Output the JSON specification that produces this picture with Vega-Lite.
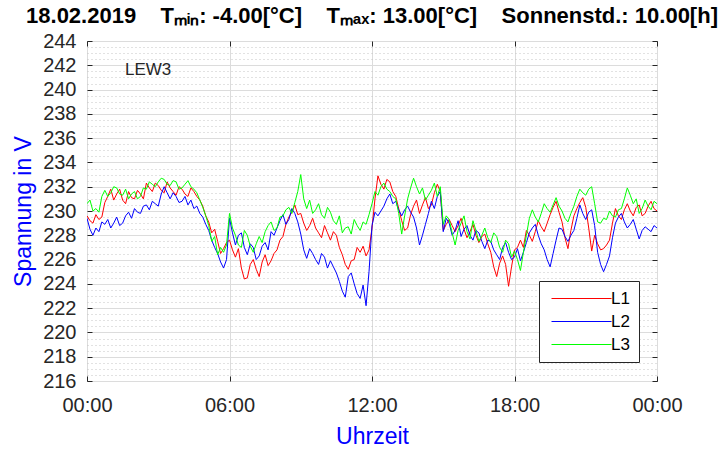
{
  "$schema": "https://vega.github.io/schema/vega-lite/v6.json",
  "width": 570,
  "height": 340,
  "autosize": {"type": "none"},
  "padding": {"left": 87, "top": 41, "right": 68, "bottom": 68},
  "background": "white",
  "config": {"view": {"stroke": "#262626", "strokeWidth": 1}, "font": "Liberation Sans"},
  "title": {
    "text": "18.02.2019\u00a0\u00a0\u00a0\u00a0Tₘᵢₙ: -4.00[°C]\u00a0\u00a0\u00a0\u00a0Tₘₐₓ: 13.00[°C]\u00a0\u00a0\u00a0\u00a0Sonnenstd.: 10.00[h]",
    "font": "Liberation Sans",
    "fontSize": 22,
    "fontWeight": "bold",
    "color": "#000000",
    "anchor": "middle",
    "offset": 3
  },
  "data": {
    "values": [
      {"t": 0.000, "L1": 229.6, "L2": 229.4, "L3": 230.6},
      {"t": 0.125, "L1": 229.2, "L2": 228.5, "L3": 230.9},
      {"t": 0.250, "L1": 229.0, "L2": 228.0, "L3": 230.0},
      {"t": 0.375, "L1": 229.7, "L2": 228.6, "L3": 230.2},
      {"t": 0.500, "L1": 229.3, "L2": 228.3, "L3": 229.9},
      {"t": 0.625, "L1": 229.5, "L2": 229.1, "L3": 231.2},
      {"t": 0.750, "L1": 230.7, "L2": 228.9, "L3": 231.7},
      {"t": 0.875, "L1": 231.2, "L2": 229.3, "L3": 231.2},
      {"t": 1.000, "L1": 231.8, "L2": 228.6, "L3": 231.5},
      {"t": 1.125, "L1": 230.9, "L2": 229.0, "L3": 232.0},
      {"t": 1.250, "L1": 231.4, "L2": 229.5, "L3": 231.9},
      {"t": 1.375, "L1": 231.8, "L2": 228.8, "L3": 231.4},
      {"t": 1.500, "L1": 230.9, "L2": 229.0, "L3": 231.3},
      {"t": 1.625, "L1": 230.6, "L2": 229.6, "L3": 231.8},
      {"t": 1.750, "L1": 231.6, "L2": 229.9, "L3": 231.0},
      {"t": 1.875, "L1": 231.1, "L2": 229.4, "L3": 231.4},
      {"t": 2.000, "L1": 231.0, "L2": 230.2, "L3": 231.6},
      {"t": 2.125, "L1": 231.7, "L2": 229.9, "L3": 231.0},
      {"t": 2.250, "L1": 231.4, "L2": 229.8, "L3": 231.2},
      {"t": 2.375, "L1": 231.0, "L2": 230.4, "L3": 231.9},
      {"t": 2.500, "L1": 232.3, "L2": 230.5, "L3": 231.8},
      {"t": 2.625, "L1": 231.9, "L2": 230.1, "L3": 232.4},
      {"t": 2.750, "L1": 231.6, "L2": 230.8, "L3": 232.2},
      {"t": 2.875, "L1": 232.3, "L2": 230.6, "L3": 232.0},
      {"t": 3.000, "L1": 232.1, "L2": 230.4, "L3": 232.4},
      {"t": 3.125, "L1": 231.7, "L2": 231.4, "L3": 232.7},
      {"t": 3.250, "L1": 231.5, "L2": 232.0, "L3": 232.6},
      {"t": 3.375, "L1": 232.4, "L2": 231.5, "L3": 232.2},
      {"t": 3.500, "L1": 231.9, "L2": 231.0, "L3": 232.1},
      {"t": 3.625, "L1": 231.6, "L2": 231.5, "L3": 232.5},
      {"t": 3.750, "L1": 231.3, "L2": 231.2, "L3": 232.4},
      {"t": 3.875, "L1": 232.0, "L2": 230.7, "L3": 231.8},
      {"t": 4.000, "L1": 231.8, "L2": 230.8, "L3": 231.9},
      {"t": 4.125, "L1": 231.4, "L2": 231.2, "L3": 232.2},
      {"t": 4.250, "L1": 231.2, "L2": 230.5, "L3": 232.5},
      {"t": 4.375, "L1": 231.9, "L2": 230.9, "L3": 232.0},
      {"t": 4.500, "L1": 231.6, "L2": 230.2, "L3": 231.8},
      {"t": 4.625, "L1": 231.2, "L2": 230.4, "L3": 231.5},
      {"t": 4.750, "L1": 230.9, "L2": 229.8, "L3": 230.9},
      {"t": 4.875, "L1": 230.4, "L2": 229.5, "L3": 230.3},
      {"t": 5.000, "L1": 229.6, "L2": 228.9, "L3": 229.6},
      {"t": 5.125, "L1": 229.1, "L2": 228.4, "L3": 228.8},
      {"t": 5.250, "L1": 228.2, "L2": 227.6, "L3": 227.5},
      {"t": 5.375, "L1": 228.5, "L2": 227.0, "L3": 227.9},
      {"t": 5.500, "L1": 227.5, "L2": 226.5, "L3": 226.4},
      {"t": 5.625, "L1": 226.5, "L2": 225.8, "L3": 227.0},
      {"t": 5.750, "L1": 226.9, "L2": 225.3, "L3": 226.6},
      {"t": 5.875, "L1": 227.4, "L2": 226.0, "L3": 227.2},
      {"t": 6.000, "L1": 227.6, "L2": 229.4, "L3": 229.8},
      {"t": 6.125, "L1": 226.8, "L2": 228.2, "L3": 228.6},
      {"t": 6.250, "L1": 226.2, "L2": 227.2, "L3": 228.0},
      {"t": 6.375, "L1": 226.9, "L2": 228.0, "L3": 227.2},
      {"t": 6.500, "L1": 225.3, "L2": 228.2, "L3": 227.0},
      {"t": 6.625, "L1": 224.4, "L2": 227.0, "L3": 228.4},
      {"t": 6.750, "L1": 224.5, "L2": 226.4, "L3": 228.0},
      {"t": 6.875, "L1": 225.6, "L2": 227.3, "L3": 227.1},
      {"t": 7.000, "L1": 226.0, "L2": 227.0, "L3": 226.6},
      {"t": 7.125, "L1": 225.2, "L2": 226.0, "L3": 227.3},
      {"t": 7.250, "L1": 224.6, "L2": 226.3, "L3": 227.9},
      {"t": 7.375, "L1": 225.8, "L2": 227.1, "L3": 227.4},
      {"t": 7.500, "L1": 226.4, "L2": 227.4, "L3": 228.3},
      {"t": 7.625, "L1": 225.5, "L2": 226.8, "L3": 228.8},
      {"t": 7.750, "L1": 225.9, "L2": 228.3, "L3": 229.1},
      {"t": 7.875, "L1": 226.5, "L2": 228.0, "L3": 228.4},
      {"t": 8.000, "L1": 226.8, "L2": 228.6, "L3": 228.6},
      {"t": 8.125, "L1": 227.6, "L2": 229.2, "L3": 229.5},
      {"t": 8.250, "L1": 227.9, "L2": 229.7, "L3": 229.6},
      {"t": 8.375, "L1": 228.9, "L2": 228.9, "L3": 230.1},
      {"t": 8.500, "L1": 229.5, "L2": 229.3, "L3": 230.3},
      {"t": 8.625, "L1": 229.9, "L2": 230.2, "L3": 229.8},
      {"t": 8.750, "L1": 230.5, "L2": 229.8, "L3": 230.7},
      {"t": 8.875, "L1": 229.7, "L2": 229.1, "L3": 231.6},
      {"t": 9.000, "L1": 229.8, "L2": 228.1, "L3": 233.0},
      {"t": 9.125, "L1": 229.0, "L2": 226.8, "L3": 231.0},
      {"t": 9.250, "L1": 228.4, "L2": 226.1, "L3": 230.2},
      {"t": 9.375, "L1": 228.8, "L2": 226.9, "L3": 230.9},
      {"t": 9.500, "L1": 229.4, "L2": 226.5, "L3": 229.8},
      {"t": 9.625, "L1": 228.6, "L2": 226.0, "L3": 230.1},
      {"t": 9.750, "L1": 228.2, "L2": 225.6, "L3": 230.6},
      {"t": 9.875, "L1": 227.8, "L2": 226.5, "L3": 229.7},
      {"t": 10.000, "L1": 228.8, "L2": 226.2, "L3": 229.4},
      {"t": 10.125, "L1": 228.2, "L2": 225.3, "L3": 230.3},
      {"t": 10.250, "L1": 227.6, "L2": 225.9, "L3": 229.9},
      {"t": 10.375, "L1": 228.3, "L2": 225.4, "L3": 229.2},
      {"t": 10.500, "L1": 228.0, "L2": 224.9, "L3": 228.9},
      {"t": 10.625, "L1": 227.0, "L2": 224.2, "L3": 229.6},
      {"t": 10.750, "L1": 226.4, "L2": 223.4, "L3": 228.2},
      {"t": 10.875, "L1": 225.6, "L2": 222.9, "L3": 228.6},
      {"t": 11.000, "L1": 225.2, "L2": 224.6, "L3": 228.7},
      {"t": 11.125, "L1": 225.9, "L2": 224.9, "L3": 228.1},
      {"t": 11.250, "L1": 226.0, "L2": 224.0, "L3": 229.3},
      {"t": 11.375, "L1": 227.0, "L2": 223.2, "L3": 228.8},
      {"t": 11.500, "L1": 226.6, "L2": 222.8, "L3": 228.4},
      {"t": 11.625, "L1": 227.1, "L2": 223.9, "L3": 229.1},
      {"t": 11.750, "L1": 226.3, "L2": 222.2, "L3": 228.9},
      {"t": 11.875, "L1": 226.8, "L2": 225.0, "L3": 229.7},
      {"t": 12.000, "L1": 228.6, "L2": 228.8, "L3": 230.6},
      {"t": 12.125, "L1": 231.0, "L2": 229.9, "L3": 231.6},
      {"t": 12.250, "L1": 232.9, "L2": 229.6, "L3": 231.3},
      {"t": 12.375, "L1": 232.2, "L2": 230.0, "L3": 232.0},
      {"t": 12.500, "L1": 231.8, "L2": 230.4, "L3": 232.3},
      {"t": 12.625, "L1": 232.6, "L2": 231.0, "L3": 231.8},
      {"t": 12.750, "L1": 232.4, "L2": 231.4, "L3": 231.6},
      {"t": 12.875, "L1": 231.6, "L2": 230.6, "L3": 231.2},
      {"t": 13.000, "L1": 231.2, "L2": 230.8, "L3": 231.0},
      {"t": 13.125, "L1": 230.2, "L2": 230.1, "L3": 229.8},
      {"t": 13.250, "L1": 229.2, "L2": 229.6, "L3": 228.1},
      {"t": 13.375, "L1": 228.4, "L2": 230.1, "L3": 229.6},
      {"t": 13.500, "L1": 228.6, "L2": 230.4, "L3": 231.0},
      {"t": 13.625, "L1": 229.7, "L2": 229.9, "L3": 231.9},
      {"t": 13.750, "L1": 230.4, "L2": 229.5, "L3": 232.7},
      {"t": 13.875, "L1": 230.9, "L2": 228.6, "L3": 232.0},
      {"t": 14.000, "L1": 229.8, "L2": 227.2, "L3": 231.4},
      {"t": 14.125, "L1": 230.5, "L2": 228.0, "L3": 231.9},
      {"t": 14.250, "L1": 231.1, "L2": 228.9, "L3": 230.9},
      {"t": 14.375, "L1": 230.2, "L2": 229.8, "L3": 231.3},
      {"t": 14.500, "L1": 230.5, "L2": 230.8, "L3": 231.7},
      {"t": 14.625, "L1": 231.5, "L2": 230.2, "L3": 232.3},
      {"t": 14.750, "L1": 232.2, "L2": 231.2, "L3": 231.2},
      {"t": 14.875, "L1": 231.6, "L2": 231.6, "L3": 232.0},
      {"t": 15.000, "L1": 228.4, "L2": 228.3, "L3": 228.9},
      {"t": 15.125, "L1": 228.9, "L2": 229.4, "L3": 229.6},
      {"t": 15.250, "L1": 229.3, "L2": 229.0, "L3": 229.3},
      {"t": 15.375, "L1": 228.8, "L2": 228.0, "L3": 228.2},
      {"t": 15.500, "L1": 228.3, "L2": 228.4, "L3": 227.2},
      {"t": 15.625, "L1": 228.8, "L2": 229.2, "L3": 228.4},
      {"t": 15.750, "L1": 229.4, "L2": 227.9, "L3": 229.0},
      {"t": 15.875, "L1": 228.5, "L2": 228.5, "L3": 229.6},
      {"t": 16.000, "L1": 227.8, "L2": 228.8, "L3": 228.3},
      {"t": 16.125, "L1": 228.3, "L2": 228.0, "L3": 227.7},
      {"t": 16.250, "L1": 228.9, "L2": 227.6, "L3": 229.2},
      {"t": 16.375, "L1": 228.0, "L2": 228.4, "L3": 228.4},
      {"t": 16.500, "L1": 227.4, "L2": 228.2, "L3": 227.5},
      {"t": 16.625, "L1": 227.9, "L2": 227.5, "L3": 228.0},
      {"t": 16.750, "L1": 228.1, "L2": 226.9, "L3": 228.6},
      {"t": 16.875, "L1": 227.3, "L2": 227.6, "L3": 227.8},
      {"t": 17.000, "L1": 226.6, "L2": 227.5, "L3": 227.4},
      {"t": 17.125, "L1": 225.4, "L2": 226.8, "L3": 228.2},
      {"t": 17.250, "L1": 224.6, "L2": 226.4, "L3": 227.9},
      {"t": 17.375, "L1": 225.7, "L2": 226.0, "L3": 227.0},
      {"t": 17.500, "L1": 226.3, "L2": 227.0, "L3": 226.6},
      {"t": 17.625, "L1": 225.6, "L2": 227.4, "L3": 227.6},
      {"t": 17.750, "L1": 223.8, "L2": 226.6, "L3": 227.3},
      {"t": 17.875, "L1": 225.4, "L2": 226.0, "L3": 226.2},
      {"t": 18.000, "L1": 226.8, "L2": 226.2, "L3": 226.7},
      {"t": 18.125, "L1": 227.0, "L2": 226.9, "L3": 226.0},
      {"t": 18.250, "L1": 227.6, "L2": 225.9, "L3": 225.1},
      {"t": 18.375, "L1": 227.0, "L2": 226.6, "L3": 226.6},
      {"t": 18.500, "L1": 228.4, "L2": 227.4, "L3": 228.0},
      {"t": 18.625, "L1": 228.0, "L2": 228.2, "L3": 229.4},
      {"t": 18.750, "L1": 227.5, "L2": 228.6, "L3": 230.1},
      {"t": 18.875, "L1": 228.3, "L2": 228.9, "L3": 229.5},
      {"t": 19.000, "L1": 229.2, "L2": 228.0, "L3": 229.1},
      {"t": 19.125, "L1": 228.7, "L2": 227.3, "L3": 229.8},
      {"t": 19.250, "L1": 228.3, "L2": 226.8, "L3": 230.6},
      {"t": 19.375, "L1": 229.0, "L2": 226.0, "L3": 230.2},
      {"t": 19.500, "L1": 229.7, "L2": 225.4, "L3": 229.9},
      {"t": 19.625, "L1": 230.3, "L2": 226.5, "L3": 230.5},
      {"t": 19.750, "L1": 230.8, "L2": 227.6, "L3": 231.1},
      {"t": 19.875, "L1": 229.9, "L2": 228.6, "L3": 230.4},
      {"t": 20.000, "L1": 229.1, "L2": 228.5, "L3": 230.0},
      {"t": 20.125, "L1": 227.8, "L2": 227.9, "L3": 229.4},
      {"t": 20.250, "L1": 226.9, "L2": 227.5, "L3": 229.1},
      {"t": 20.375, "L1": 228.4, "L2": 228.0, "L3": 229.8},
      {"t": 20.500, "L1": 229.6, "L2": 228.4, "L3": 230.4},
      {"t": 20.625, "L1": 230.2, "L2": 229.4, "L3": 231.2},
      {"t": 20.750, "L1": 230.7, "L2": 230.5, "L3": 231.8},
      {"t": 20.875, "L1": 231.1, "L2": 229.8, "L3": 231.5},
      {"t": 21.000, "L1": 230.3, "L2": 229.3, "L3": 231.3},
      {"t": 21.125, "L1": 228.6, "L2": 229.9, "L3": 231.8},
      {"t": 21.250, "L1": 226.7, "L2": 230.1, "L3": 232.0},
      {"t": 21.375, "L1": 228.0, "L2": 228.8, "L3": 230.6},
      {"t": 21.500, "L1": 227.3, "L2": 226.6, "L3": 229.1},
      {"t": 21.625, "L1": 226.8, "L2": 225.6, "L3": 229.0},
      {"t": 21.750, "L1": 226.9, "L2": 225.0, "L3": 229.4},
      {"t": 21.875, "L1": 227.2, "L2": 225.6, "L3": 229.3},
      {"t": 22.000, "L1": 227.6, "L2": 226.3, "L3": 230.0},
      {"t": 22.125, "L1": 229.0, "L2": 227.8, "L3": 229.6},
      {"t": 22.250, "L1": 230.2, "L2": 229.0, "L3": 229.5},
      {"t": 22.375, "L1": 229.6, "L2": 229.5, "L3": 230.1},
      {"t": 22.500, "L1": 229.3, "L2": 229.8, "L3": 230.2},
      {"t": 22.625, "L1": 230.1, "L2": 229.1, "L3": 231.0},
      {"t": 22.750, "L1": 230.6, "L2": 228.6, "L3": 231.9},
      {"t": 22.875, "L1": 230.0, "L2": 228.9, "L3": 231.3},
      {"t": 23.000, "L1": 229.6, "L2": 229.3, "L3": 230.6},
      {"t": 23.125, "L1": 230.3, "L2": 228.5, "L3": 231.0},
      {"t": 23.250, "L1": 230.5, "L2": 227.7, "L3": 229.8},
      {"t": 23.375, "L1": 229.6, "L2": 228.4, "L3": 230.2},
      {"t": 23.500, "L1": 229.8, "L2": 228.7, "L3": 230.9},
      {"t": 23.625, "L1": 230.4, "L2": 228.5, "L3": 230.4},
      {"t": 23.750, "L1": 230.8, "L2": 228.3, "L3": 230.1},
      {"t": 23.875, "L1": 230.2, "L2": 228.8, "L3": 230.8},
      {"t": 24.000, "L1": 230.0, "L2": 228.6, "L3": 230.6}
    ]
  },
  "layer": [
    {
      "transform": [{"fold": ["L1", "L2", "L3"], "as": ["Phase", "U"]}],
      "mark": {"type": "line", "strokeWidth": 1, "clip": true},
      "encoding": {
        "x": {
          "field": "t", "type": "quantitative",
          "scale": {"domain": [0, 24], "nice": false, "zero": false},
          "axis": {
            "values": [0, 6, 12, 18, 24],
            "labelExpr": "((datum.value < 10 || datum.value == 24) ? '0' : '') + (datum.value % 24) + ':00'",
            "grid": true, "gridColor": "#dcdcdc", "gridWidth": 1,
            "domain": false, "tickSize": -5, "tickColor": "#262626",
            "labelFontSize": 20, "labelColor": "#262626", "labelPadding": 19,
            "labelFlush": false, "labelOverlap": false,
            "title": "Uhrzeit", "titleColor": "#0000ff", "titleFontSize": 23,
            "titleFontWeight": "normal", "titlePadding": 10
          }
        },
        "y": {
          "field": "U", "type": "quantitative",
          "scale": {"domain": [216, 244], "nice": false, "zero": false},
          "axis": {
            "values": [216, 216.5, 217, 217.5, 218, 218.5, 219, 219.5, 220, 220.5, 221, 221.5, 222, 222.5, 223, 223.5, 224, 224.5, 225, 225.5, 226, 226.5, 227, 227.5, 228, 228.5, 229, 229.5, 230, 230.5, 231, 231.5, 232, 232.5, 233, 233.5, 234, 234.5, 235, 235.5, 236, 236.5, 237, 237.5, 238, 238.5, 239, 239.5, 240, 240.5, 241, 241.5, 242, 242.5, 243, 243.5, 244],
            "labelExpr": "datum.value % 2 === 0 ? format(datum.value, 'd') : ''",
            "grid": true,
            "gridColor": {"condition": {"test": "datum.value % 2 !== 0", "value": "#c4c4c4"}, "value": "#dcdcdc"},
            "gridDash": {"condition": {"test": "datum.value % 2 !== 0", "value": [1, 3]}, "value": []},
            "tickOpacity": {"condition": {"test": "datum.value % 2 !== 0", "value": 0}, "value": 1},
            "domain": false, "tickSize": -5, "tickColor": "#262626",
            "labelFontSize": 20, "labelColor": "#262626", "labelPadding": 16,
            "labelOverlap": false, "labelFlush": false, "labelBound": false,
            "title": "Spannung in V", "titleColor": "#0000ff", "titleFontSize": 23,
            "titleFontWeight": "normal", "titlePadding": 7
          }
        },
        "color": {
          "field": "Phase", "type": "nominal",
          "scale": {"domain": ["L1", "L2", "L3"], "range": ["#ff0000", "#0000ff", "#00ff00"]},
          "legend": {
            "orient": "none", "legendX": 452, "legendY": 240, "title": null,
            "symbolType": "M-6,0H6", "symbolSize": 100, "symbolStrokeWidth": 1,
            "symbolOffset": 25, "symbolFillColor": "transparent",
            "labelFontSize": 17, "labelColor": "#000000", "labelOffset": 21,
            "padding": 9, "rowPadding": 5,
            "strokeColor": "#262626", "fillColor": "white"
          }
        }
      }
    },
    {
      "data": {"values": [{"t": 1.6, "U": 241.6, "label": "LEW3"}]},
      "mark": {"type": "text", "align": "left", "baseline": "middle", "fontSize": 17, "color": "#262626"},
      "encoding": {
        "x": {
          "field": "t", "type": "quantitative",
          "axis": {"orient": "top", "values": [0, 6, 12, 18, 24], "labels": false, "grid": false, "domain": false, "tickSize": -5, "tickColor": "#262626", "title": null}
        },
        "y": {
          "field": "U", "type": "quantitative",
          "axis": {"orient": "right", "values": [216, 218, 220, 222, 224, 226, 228, 230, 232, 234, 236, 238, 240, 242, 244], "labels": false, "grid": false, "domain": false, "tickSize": -5, "tickColor": "#262626", "title": null}
        },
        "text": {"field": "label"}
      }
    }
  ],
  "resolve": {"axis": {"x": "independent", "y": "independent"}}
}
